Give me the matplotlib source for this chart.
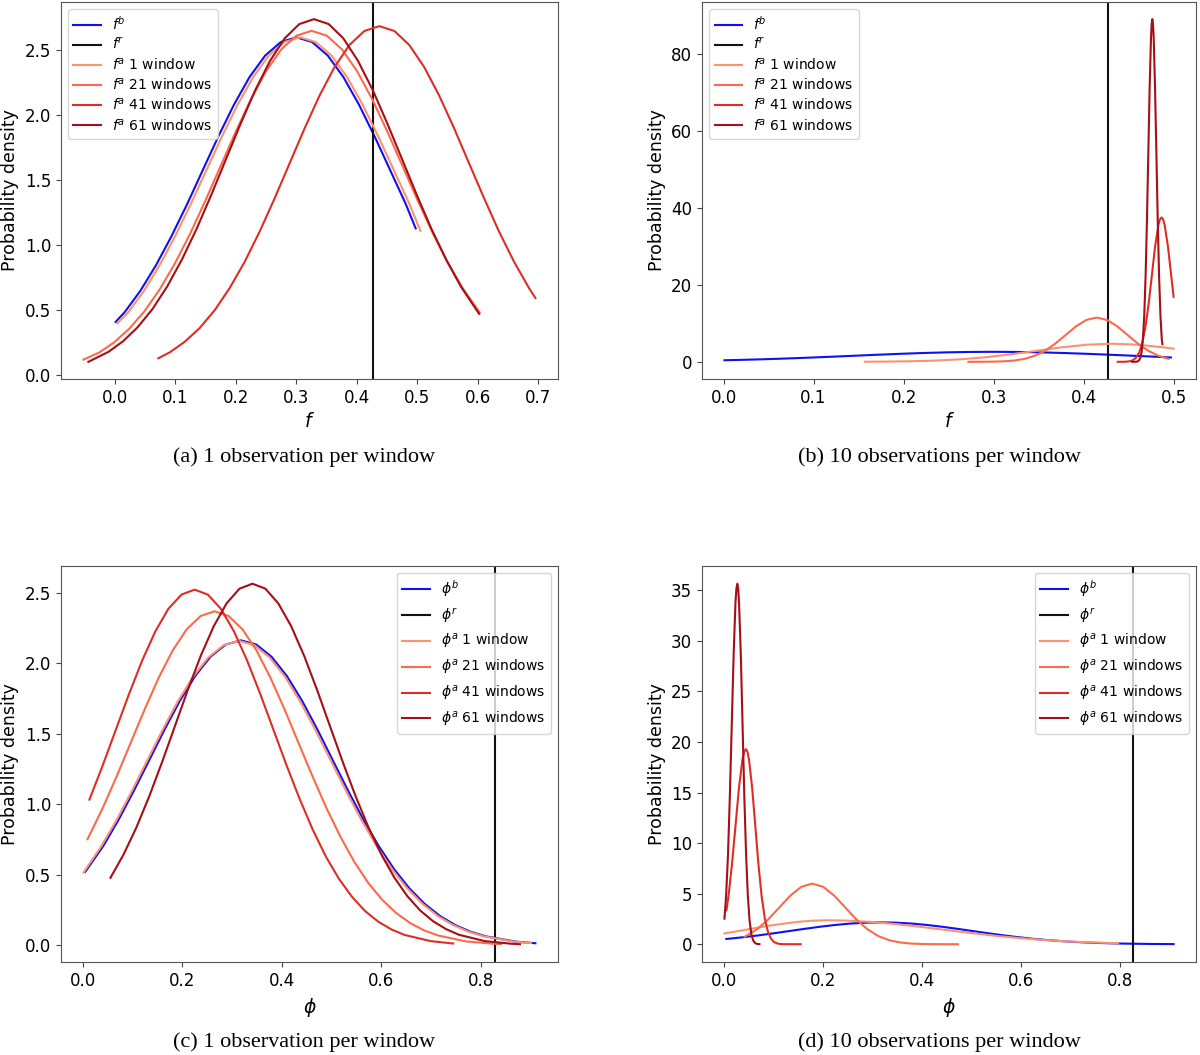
import numpy as np
import matplotlib
matplotlib.use('Agg')
import matplotlib.pyplot as plt

# ---- data ----
# prior densities (the same prior is drawn in both f panels and both phi panels)
fb_x = [0.001, 0.0158, 0.0417, 0.0675, 0.0933, 0.1192, 0.145, 0.1708, 0.1967, 0.2225, 0.2483,
        0.2742, 0.300, 0.3258, 0.3517, 0.3775, 0.4033, 0.4292, 0.455, 0.4808, 0.497]
fb_y = [0.41, 0.484, 0.648, 0.844, 1.069, 1.316, 1.577, 1.837, 2.082, 2.295, 2.460,
        2.564, 2.600, 2.564, 2.460, 2.295, 2.082, 1.837, 1.577, 1.316, 1.13]
phb_x = [0.0054, 0.0415, 0.0723, 0.103, 0.1337, 0.1644, 0.1951, 0.2259, 0.2566, 0.2873, 0.318,
         0.3487, 0.3794, 0.4102, 0.4409, 0.4716, 0.5023, 0.533, 0.5637, 0.5945, 0.6252,
         0.6559, 0.6866, 0.7173, 0.748, 0.7788, 0.8095, 0.8709, 0.909]
phb_y = [0.52, 0.703, 0.890, 1.096, 1.312, 1.529, 1.733, 1.910, 2.047, 2.134, 2.164,
         2.134, 2.047, 1.910, 1.733, 1.529, 1.312, 1.096, 0.890, 0.703, 0.540,
         0.403, 0.293, 0.207, 0.142, 0.095, 0.062, 0.024, 0.013]

# true values
f_true = 0.4266
phi_true = 0.827

# (a) f, 1 observation per window
a1_x = [0.004, 0.0218, 0.0477, 0.0735, 0.0993, 0.1252, 0.151, 0.1768, 0.2027, 0.2285, 0.2543,
        0.2802, 0.306, 0.3318, 0.3577, 0.3835, 0.4093, 0.4352, 0.461, 0.4868, 0.505]
a1_y = [0.40, 0.484, 0.648, 0.844, 1.069, 1.316, 1.577, 1.837, 2.082, 2.295, 2.460,
        2.564, 2.600, 2.564, 2.460, 2.295, 2.082, 1.837, 1.577, 1.316, 1.11]
a21_x = [-0.052, -0.0264, -0.0013, 0.0238, 0.0489, 0.074, 0.0991, 0.1242, 0.1493, 0.1744, 0.1995,
         0.2246, 0.2497, 0.2748, 0.2999, 0.325, 0.3501, 0.3752, 0.4003, 0.4254, 0.4505,
         0.4756, 0.5007, 0.5258, 0.5509, 0.576, 0.603]
a21_y = [0.12, 0.174, 0.253, 0.359, 0.493, 0.661, 0.860, 1.089, 1.342, 1.607, 1.872,
         2.122, 2.339, 2.507, 2.613, 2.650, 2.613, 2.507, 2.339, 2.122, 1.872,
         1.607, 1.342, 1.089, 0.860, 0.661, 0.482]
a41_x = [0.0716, 0.0905, 0.1152, 0.140, 0.1648, 0.1895, 0.2143, 0.239, 0.2638, 0.2885, 0.3133,
         0.338, 0.3628, 0.3875, 0.4123, 0.437, 0.4618, 0.4865, 0.5113, 0.536, 0.5608,
         0.5855, 0.6103, 0.635, 0.6598, 0.6845, 0.695]
a41_y = [0.130, 0.176, 0.257, 0.363, 0.500, 0.670, 0.872, 1.104, 1.360, 1.629, 1.898,
         2.151, 2.370, 2.541, 2.649, 2.686, 2.649, 2.541, 2.370, 2.151, 1.898,
         1.629, 1.360, 1.104, 0.872, 0.670, 0.594]
a61_x = [-0.044, -0.0107, 0.0135, 0.0378, 0.0621, 0.0863, 0.1106, 0.1349, 0.1591, 0.1834, 0.2077,
         0.2319, 0.2562, 0.2805, 0.3047, 0.329, 0.3533, 0.3775, 0.4018, 0.4261, 0.4503,
         0.4746, 0.4989, 0.5231, 0.5474, 0.5717, 0.602]
a61_y = [0.103, 0.180, 0.262, 0.371, 0.510, 0.683, 0.890, 1.126, 1.387, 1.662, 1.936,
         2.194, 2.418, 2.592, 2.702, 2.740, 2.702, 2.592, 2.418, 2.194, 1.936,
         1.662, 1.387, 1.126, 0.890, 0.683, 0.472]

# (b) f, 10 observations per window
b1_x = [0.157, 0.1773, 0.2056, 0.2339, 0.2622, 0.2905, 0.3188, 0.3471, 0.3754, 0.4037, 0.432,
        0.4603, 0.4886, 0.500]
b1_y = [0.025, 0.052, 0.134, 0.309, 0.636, 1.172, 1.932, 2.851, 3.763, 4.446, 4.70,
        4.446, 3.763, 3.41]
b21_x = [0.272, 0.2769, 0.2884, 0.2998, 0.3113, 0.3228, 0.3342, 0.3457, 0.3572, 0.3686, 0.3801,
         0.3916, 0.403, 0.4145, 0.426, 0.4374, 0.4489, 0.4604, 0.4718, 0.4833, 0.4945]
b21_y = [0.0, 0.004, 0.014, 0.045, 0.128, 0.329, 0.756, 1.556, 2.868, 4.728, 6.975,
         9.208, 10.879, 11.5, 10.879, 9.208, 6.975, 4.728, 2.868, 1.556, 0.77]
b41_x = [0.438, 0.4442, 0.4477, 0.4513, 0.4548, 0.4583, 0.4619, 0.4654, 0.4689, 0.4725, 0.476,
         0.4795, 0.4831, 0.4848, 0.4866, 0.4884, 0.4901, 0.4937, 0.4972, 0.500]
b41_y = [0.0, 0.01, 0.045, 0.146, 0.416, 1.073, 2.464, 5.074, 9.353, 15.42, 22.74,
         30.03, 35.48, 36.98, 37.5, 36.98, 35.48, 30.03, 22.74, 16.9]
b61_x = [0.454, 0.4585, 0.460, 0.4615, 0.463, 0.4645, 0.4659, 0.4674, 0.4689, 0.4704, 0.4719,
         0.4734, 0.4749, 0.47565, 0.4764, 0.47715, 0.4779, 0.4794, 0.4809, 0.4824, 0.4839,
         0.4854, 0.4869, 0.4876]
b61_y = [0.0, 0.03, 0.107, 0.345, 0.988, 2.545, 5.847, 12.04, 22.2, 36.59, 53.98,
         71.26, 84.19, 87.77, 89.0, 87.77, 84.19, 71.26, 53.98, 36.59, 22.2,
         12.04, 5.847, 4.6]

# (c) phi, 1 observation per window
c1_x = [0.002, 0.0375, 0.0683, 0.099, 0.1297, 0.1604, 0.1911, 0.2219, 0.2526, 0.2833, 0.314,
        0.3447, 0.3754, 0.4062, 0.4369, 0.4676, 0.4983, 0.529, 0.5597, 0.5905, 0.6212,
        0.6519, 0.6826, 0.7133, 0.744, 0.7748, 0.8055, 0.8669, 0.900]
c1_y = [0.515, 0.701, 0.888, 1.094, 1.310, 1.526, 1.730, 1.906, 2.043, 2.130, 2.160,
        2.130, 2.043, 1.906, 1.730, 1.526, 1.310, 1.094, 0.888, 0.701, 0.539,
        0.402, 0.292, 0.206, 0.142, 0.095, 0.062, 0.024, 0.014]
c21_x = [0.010, 0.0406, 0.0687, 0.0967, 0.1248, 0.1528, 0.1809, 0.2089, 0.237, 0.265, 0.293,
         0.3211, 0.3492, 0.3772, 0.4053, 0.4333, 0.4614, 0.4894, 0.5175, 0.5455, 0.5736,
         0.6016, 0.6297, 0.6577, 0.6858, 0.7138, 0.7699, 0.826, 0.840]
c21_y = [0.752, 0.974, 1.200, 1.437, 1.675, 1.898, 2.092, 2.242, 2.337, 2.370, 2.337,
         2.242, 2.092, 1.898, 1.675, 1.437, 1.200, 0.974, 0.770, 0.591, 0.441,
         0.321, 0.227, 0.156, 0.104, 0.068, 0.026, 0.009, 0.007]
c41_x = [0.0138, 0.0407, 0.067, 0.0933, 0.1197, 0.146, 0.1723, 0.1987, 0.225, 0.2513, 0.2777,
         0.304, 0.3303, 0.3567, 0.383, 0.4093, 0.4357, 0.462, 0.4883, 0.5147, 0.541,
         0.5673, 0.5937, 0.62, 0.6463, 0.699, 0.744]
c41_y = [1.033, 1.278, 1.531, 1.783, 2.021, 2.227, 2.388, 2.489, 2.524, 2.489, 2.388,
         2.227, 2.021, 1.783, 1.531, 1.278, 1.038, 0.820, 0.629, 0.470, 0.342,
         0.241, 0.166, 0.111, 0.072, 0.028, 0.011]
c61_x = [0.056, 0.0818, 0.1078, 0.1337, 0.1596, 0.1855, 0.2114, 0.2373, 0.2633, 0.2892, 0.3151,
         0.341, 0.3669, 0.3928, 0.4188, 0.4447, 0.4706, 0.4965, 0.5224, 0.5483, 0.5743,
         0.6002, 0.6261, 0.652, 0.6779, 0.7038, 0.7298, 0.7557, 0.8075, 0.8593, 0.878]
c61_y = [0.478, 0.640, 0.833, 1.055, 1.299, 1.556, 1.813, 2.055, 2.264, 2.427, 2.531,
         2.566, 2.531, 2.427, 2.264, 2.055, 1.813, 1.556, 1.299, 1.055, 0.833,
         0.640, 0.478, 0.347, 0.245, 0.169, 0.113, 0.073, 0.028, 0.010, 0.006]

# (d) phi, 10 observations per window
d1_x = [0.0016, 0.05, 0.10, 0.15, 0.18, 0.21, 0.25, 0.30, 0.35, 0.40, 0.45, 0.50, 0.55,
        0.60, 0.65, 0.70, 0.75, 0.797]
d1_y = [1.067, 1.481, 1.898, 2.218, 2.331, 2.37, 2.336, 2.202, 1.984, 1.709, 1.407, 1.107, 0.832,
        0.598, 0.411, 0.269, 0.169, 0.104]
d21_x = [0.0423, 0.068, 0.0902, 0.1124, 0.1346, 0.1568, 0.179, 0.2012, 0.2234, 0.2456, 0.2678,
         0.290, 0.3122, 0.3344, 0.3566, 0.3788, 0.401, 0.4232, 0.4736]
d21_y = [0.73, 1.496, 2.467, 3.639, 4.804, 5.676, 6.0, 5.676, 4.804, 3.639, 2.467,
         1.496, 0.812, 0.394, 0.172, 0.067, 0.023, 0.007, 0.0]
d41_x = [0.0056, 0.0099, 0.0169, 0.0239, 0.0309, 0.0379, 0.0414, 0.0449, 0.0481, 0.0512, 0.0576,
         0.0639, 0.0702, 0.0766, 0.0829, 0.0892, 0.0956, 0.1019, 0.1082, 0.1146, 0.1209, 0.1556]
d41_y = [3.36, 4.813, 7.934, 11.71, 15.45, 18.26, 19.03, 19.3, 19.03, 18.26, 15.45,
         11.71, 7.934, 4.813, 2.611, 1.268, 0.552, 0.214, 0.075, 0.023, 0.006, 0.0]
d61_x = [0.0016, 0.0050, 0.0088, 0.0125, 0.0163, 0.0201, 0.0238, 0.0257, 0.0276, 0.0294, 0.0311,
         0.0347, 0.0382, 0.0417, 0.0453, 0.0488, 0.0523, 0.0559, 0.0594, 0.0629, 0.0665, 0.0723]
d61_y = [2.53, 4.825, 8.894, 14.66, 21.63, 28.55, 33.73, 35.17, 35.66, 35.17, 33.73,
         28.55, 21.63, 14.66, 8.894, 4.825, 2.343, 1.020, 0.396, 0.138, 0.043, 0.01]

windows = ['1 window', '21 windows', '41 windows', '61 windows']
win_colors = ['#fc9272', '#fb6a4a', '#de2d26', '#a50f15']
captions = ['(a) 1 observation per window', '(b) 10 observations per window',
            '(c) 1 observation per window', '(d) 10 observations per window']

fig = plt.figure(figsize=(12, 10.55), dpi=100)

# axes rectangles in figure fraction
ax_a = fig.add_axes([0.0508, 0.6408, 0.4142, 0.3573])
ax_b = fig.add_axes([0.585, 0.6408, 0.4117, 0.3573])
ax_c = fig.add_axes([0.0508, 0.0879, 0.4142, 0.3759])
ax_d = fig.add_axes([0.585, 0.0879, 0.4117, 0.3759])


def draw_panel(ax, prior, truth, posts, sym, loc, spacing):
    ax.plot(prior[0], prior[1], color='#1010f0', lw=1.5, label=r'$%s^b$' % sym)
    ax.axvline(truth, color='#111111', lw=1.5, label=r'$%s^r$' % sym)
    for (px, py), name, col in zip(posts, windows, win_colors):
        ax.plot(px, py, color=col, lw=1.5, label=r'$%s^a$ %s' % (sym, name))
    ax.set_xlabel(r'$%s$' % sym, fontsize=13.5)
    ax.set_ylabel('Probability density', fontsize=12.5)
    ax.tick_params(labelsize=12, color='#444444')
    for s in ax.spines.values():
        s.set_color('#555555')
    ax.legend(loc=loc, fontsize=10, labelspacing=spacing)


draw_panel(ax_a, (fb_x, fb_y), f_true,
           [(a1_x, a1_y), (a21_x, a21_y), (a41_x, a41_y), (a61_x, a61_y)], 'f', 'upper left', 0.3)
draw_panel(ax_b, (fb_x, fb_y), f_true,
           [(b1_x, b1_y), (b21_x, b21_y), (b41_x, b41_y), (b61_x, b61_y)], 'f', 'upper left', 0.3)
draw_panel(ax_c, (phb_x, phb_y), phi_true,
           [(c1_x, c1_y), (c21_x, c21_y), (c41_x, c41_y), (c61_x, c61_y)], r'\phi', 'upper right', 0.5)
draw_panel(ax_d, (phb_x, phb_y), phi_true,
           [(d1_x, d1_y), (d21_x, d21_y), (d41_x, d41_y), (d61_x, d61_y)], r'\phi', 'upper right', 0.5)

cap_pos = [(0.253, 1 - 457 / 1055), (0.783, 1 - 457 / 1055),
           (0.253, 1 - 1042 / 1055), (0.783, 1 - 1042 / 1055)]
for (cx, cy), txt in zip(cap_pos, captions):
    fig.text(cx, cy, txt, ha='center', va='center', fontsize=16, family='Liberation Serif')

fig.savefig('out.png', dpi=100)
